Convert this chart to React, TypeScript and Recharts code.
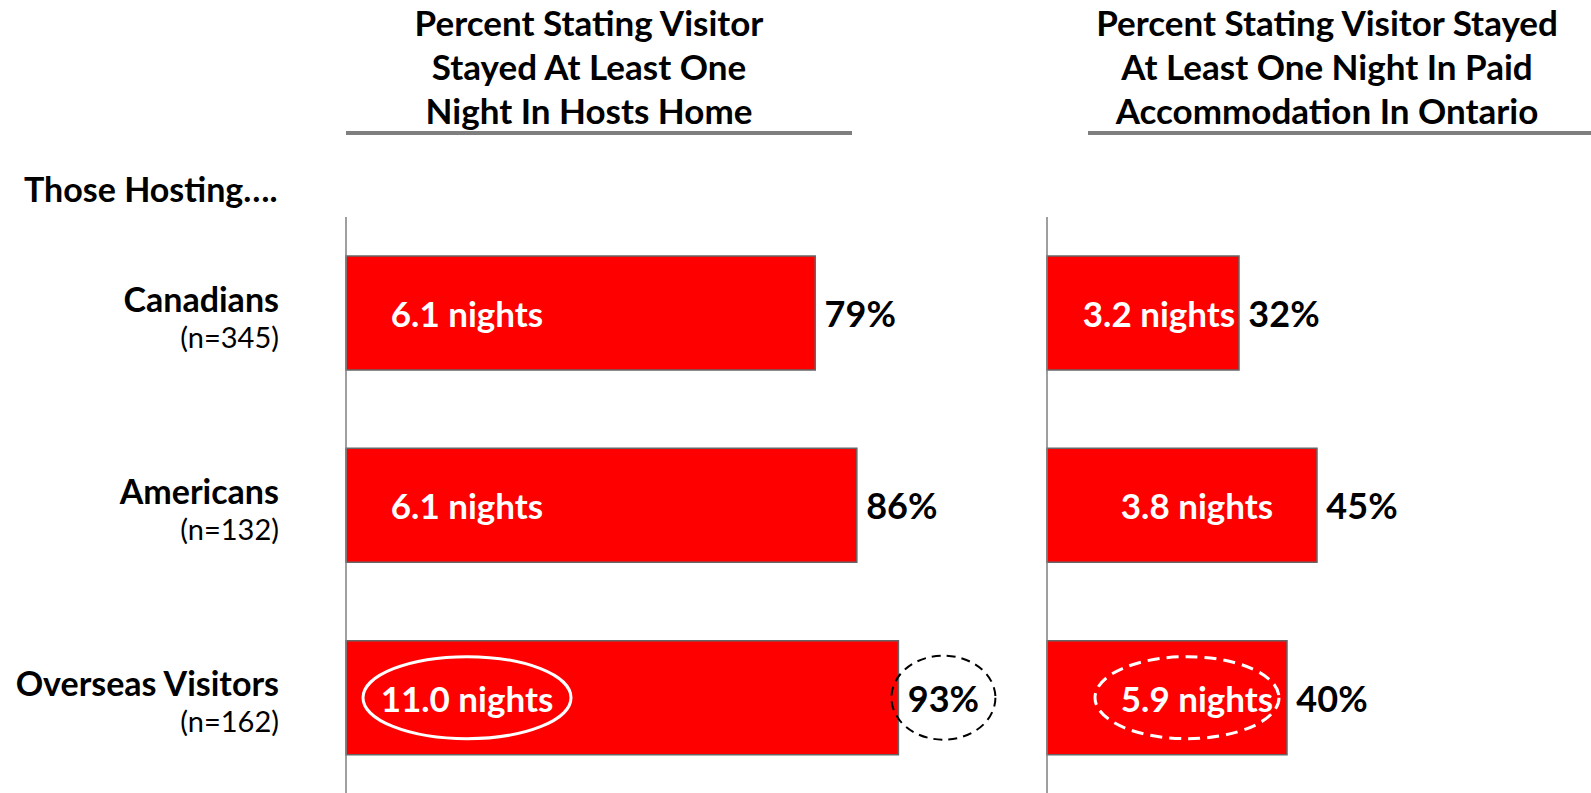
import React from 'react';
import { BarChart, Bar, XAxis, YAxis, LabelList } from 'recharts';

const categories = ['Canadians', 'Americans', 'Overseas Visitors'];
const sampleSizes = ['(n=345)', '(n=132)', '(n=162)'];

// left panel: stayed in hosts home
const homePct = [79, 86, 93];
const homeNights = ['6.1 nights', '6.1 nights', '11.0 nights'];
const homeNightsMark = ['', '', 'solid'];
const homePctMark = ['', '', 'dashed'];

// right panel: stayed in paid accommodation
const paidPct = [32, 45, 40];
const paidNights = ['3.2 nights', '3.8 nights', '5.9 nights'];
const paidNightsMark = ['', '', 'dashed'];
const paidPctMark = ['', '', ''];

const FONT = 'Lato, "Open Sans", sans-serif';
const RED = '#FF0000';
const GREY = '#7f7f7f';

const homeData = categories.map((name, i) => ({
  name,
  n: sampleSizes[i],
  pct: homePct[i],
  nights: homeNights[i],
}));
const paidData = categories.map((name, i) => ({
  name,
  n: sampleSizes[i],
  pct: paidPct[i],
  nights: paidNights[i],
}));

const CategoryTick = (props: any) => {
  const { x, y, payload, index } = props;
  return (
    <g>
      <text x={x} y={y - 15} textAnchor="end" dominantBaseline="central" fontFamily={FONT} fontWeight={700} fontSize={34} fill="#000">
        {payload.value}
      </text>
      <text x={x} y={y + 23} textAnchor="end" dominantBaseline="central" fontFamily={FONT} fontSize={29} fill="#000">
        {sampleSizes[index]}
      </text>
    </g>
  );
};

// label centred at a fixed offset from the axis, pulled back inside short bars
const makeNightsLabel = (centerOffset: number, marks: string[]) => (props: any) => {
  const { x, y, width, height, value, index } = props;
  const cx = Math.min(x + centerOffset, x + width - 80);
  const cy = y + height / 2;
  const mark = marks[index];
  return (
    <g>
      {mark && (
        <ellipse
          cx={mark === 'dashed' ? cx - 10 : cx}
          cy={cy}
          rx={mark === 'dashed' ? 92 : 104}
          ry={41}
          fill="none"
          stroke="#fff"
          strokeWidth={3}
          strokeDasharray={mark === 'dashed' ? '12 7' : undefined}
        />
      )}
      <text x={cx} y={cy} textAnchor="middle" dominantBaseline="central" fontFamily={FONT} fontWeight={700} fontSize={35} fill="#fff">
        {value}
      </text>
    </g>
  );
};

const makePctLabel = (marks: string[]) => (props: any) => {
  const { x, y, width, height, value, index } = props;
  const cx = x + width + 45;
  const cy = y + height / 2;
  const mark = marks[index];
  return (
    <g>
      {mark && (
        <ellipse cx={cx} cy={cy} rx={52} ry={42} fill="none" stroke="#000" strokeWidth={2} strokeDasharray={mark === 'dashed' ? '9 6' : undefined} />
      )}
      <text x={cx} y={cy} textAnchor="middle" dominantBaseline="central" fontFamily={FONT} fontWeight={700} fontSize={36} fill="#000">
        {value}%
      </text>
    </g>
  );
};

const titleStyle: React.CSSProperties = {
  position: 'absolute',
  top: 0,
  width: 600,
  textAlign: 'center',
  fontFamily: FONT,
  fontWeight: 700,
  fontSize: 35,
  lineHeight: '44px',
  color: '#000',
};

export default function App() {
  return (
    <div style={{ position: 'absolute', left: 0, top: 0, width: 1591, height: 793, overflow: 'hidden', background: '#fff' }}>
      <div style={{ ...titleStyle, left: 289 }}>
        Percent Stating Visitor<br />Stayed At Least One<br />Night In Hosts Home
      </div>
      <div style={{ position: 'absolute', left: 346, top: 131, width: 506, height: 4, background: GREY }} />
      <div style={{ ...titleStyle, left: 1027 }}>
        Percent Stating Visitor Stayed<br />At Least One Night In Paid<br />Accommodation In Ontario
      </div>
      <div style={{ position: 'absolute', left: 1088, top: 131, width: 503, height: 4, background: GREY }} />
      <div style={{ position: 'absolute', left: 24, top: 167, fontFamily: FONT, fontWeight: 700, fontSize: 34, lineHeight: '44px' }}>
        Those Hosting….
      </div>

      <div style={{ position: 'absolute', left: 0, top: 0 }}>
        <BarChart width={1040} height={794} data={homeData} layout="vertical" margin={{ top: 217, right: 100, left: 0, bottom: 0 }}>
          <XAxis type="number" domain={[0, 100]} hide />
          <YAxis
            type="category"
            dataKey="name"
            width={346}
            axisLine={{ stroke: GREY, strokeWidth: 1.5 }}
            tickLine={false}
            tickSize={0}
            tickMargin={67}
            tick={<CategoryTick />}
          />
          <Bar dataKey="pct" fill={RED} stroke="#666" strokeWidth={1.5} barSize={114} isAnimationActive={false}>
            <LabelList dataKey="pct" content={makePctLabel(homePctMark)} />
            <LabelList dataKey="nights" content={makeNightsLabel(121, homeNightsMark)} />
          </Bar>
        </BarChart>
      </div>

      <div style={{ position: 'absolute', left: 1000, top: 0 }}>
        <BarChart width={700} height={794} data={paidData} layout="vertical" margin={{ top: 217, right: 53, left: 0, bottom: 0 }}>
          <XAxis type="number" domain={[0, 100]} hide />
          <YAxis type="category" dataKey="name" width={47} axisLine={{ stroke: GREY, strokeWidth: 1.5 }} tickLine={false} tick={false} />
          <Bar dataKey="pct" fill={RED} stroke="#666" strokeWidth={1.5} barSize={114} isAnimationActive={false}>
            <LabelList dataKey="pct" content={makePctLabel(paidPctMark)} />
            <LabelList dataKey="nights" content={makeNightsLabel(150, paidNightsMark)} />
          </Bar>
        </BarChart>
      </div>
    </div>
  );
}
